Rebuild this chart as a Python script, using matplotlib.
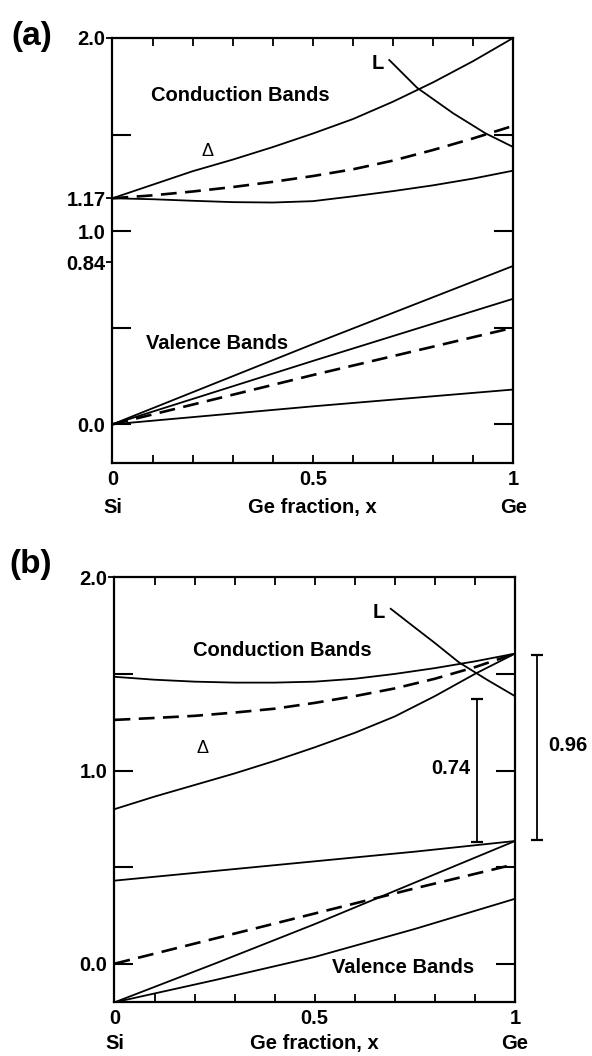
import numpy as np
import matplotlib
matplotlib.use('Agg')
import matplotlib.pyplot as plt

plt.rcParams['font.family'] = ['Liberation Sans', 'DejaVu Sans']

# ---------------- data: panel (a) ----------------
x_grid = [0.0, 0.1, 0.2, 0.3, 0.4, 0.5, 0.6, 0.7, 0.8, 0.9, 1.0]
a_cb_upper = [1.17, 1.24, 1.31, 1.37, 1.435, 1.505, 1.58, 1.67, 1.77, 1.88, 2.0]
a_cb_dash = [1.17, 1.185, 1.205, 1.228, 1.255, 1.285, 1.32, 1.365, 1.42, 1.48, 1.545]
a_cb_lower = [1.17, 1.165, 1.157, 1.15, 1.148, 1.155, 1.18, 1.207, 1.237, 1.272, 1.313]
a_L_x = [0.689, 0.76, 0.85, 0.93, 1.0]
a_L = [1.889, 1.742, 1.61, 1.507, 1.435]
a_vb_x = [0.0, 0.5, 1.0]
a_vb_1 = [0.0, 0.415, 0.82]
a_vb_2 = [0.0, 0.328, 0.65]
a_vb_dash = [0.0, 0.255, 0.50]
a_vb_3 = [0.0, 0.093, 0.18]

# ---------------- data: panel (b) ----------------
b_cb_top = [1.485, 1.47, 1.46, 1.455, 1.455, 1.46, 1.475, 1.50, 1.53, 1.565, 1.605]
b_cb_dash = [1.262, 1.272, 1.283, 1.30, 1.32, 1.35, 1.385, 1.425, 1.475, 1.535, 1.605]
b_cb_delta = [0.80, 0.865, 0.925, 0.985, 1.05, 1.12, 1.195, 1.28, 1.385, 1.50, 1.605]
b_L_x = [0.688, 0.75, 0.8, 0.86, 0.93, 1.0]
b_L = [1.84, 1.74, 1.66, 1.56, 1.47, 1.385]
b_vb_x = [0.0, 0.25, 0.5, 0.75, 1.0]
b_vb_top = [0.43, 0.48, 0.53, 0.58, 0.635]
b_vb_dash = [0.0, 0.13, 0.26, 0.39, 0.515]
b_vb_steep = [-0.2, 0.0, 0.205, 0.42, 0.635]
b_vb_low = [-0.2, -0.085, 0.035, 0.18, 0.336]
gap_x = [0.906, 1.054]
gap_low = [0.63, 0.64]
gap_high = [1.37, 1.60]
gap_labels = ['0.74', '0.96']

# tick labels
x_major = [0.0, 0.5, 1.0]
x_major_labels = ['0', '0.5', '1']
y_major = [0.0, 0.5, 1.0, 1.5]
y_major_labels = ['0.0', '', '1.0', '']
a_y_extra = [0.84, 1.17, 2.0]
a_y_extra_labels = ['0.84', '1.17', '2.0']
b_y_extra = [2.0]
b_y_extra_labels = ['2.0']
bottom_names = ['Si', 'Ge fraction, x', 'Ge']
bottom_name_x = [0.0, 0.5, 1.0]

FS = 14.5
fig = plt.figure(figsize=(5.92, 10.56), dpi=100)
ax_a = fig.add_axes([0.190, 0.5616, 0.677, 0.4025])
ax_b = fig.add_axes([0.1934, 0.0508, 0.6765, 0.4025])

SOLID = dict(color='black', lw=1.3, solid_capstyle='butt')
DASH = dict(color='black', lw=1.9, dashes=(6, 3.2))


def style_axes(ax, extra, extra_labels, name_offset):
    ax.set_xlim(0, 1)
    ax.set_ylim(-0.2, 2.0)
    for s in ax.spines.values():
        s.set_linewidth(1.6)
    ax.set_xticks(x_major)
    ax.set_xticklabels(x_major_labels, fontsize=FS, fontweight='bold')
    ax.set_xticks(np.arange(0.1, 1.0, 0.1), minor=True)
    ax.tick_params(axis='x', which='both', direction='in', top=True, bottom=True,
                   length=6, width=1.3, pad=5)
    ax.set_yticks(y_major)
    ax.set_yticklabels(y_major_labels, fontsize=FS, fontweight='bold')
    ax.set_yticks(extra, minor=True)
    ax.set_yticklabels(extra_labels, minor=True, fontsize=FS, fontweight='bold')
    ax.tick_params(axis='y', which='major', direction='in', left=True, right=True,
                   length=14, width=1.5, pad=5)
    ax.tick_params(axis='y', which='minor', direction='out', left=True, right=False,
                   length=4, width=1.3, pad=1)
    for name, nx in zip(bottom_names, bottom_name_x):
        ax.annotate(name, xy=(nx, 0), xycoords=('data', 'axes fraction'),
                    xytext=(0, name_offset), textcoords='offset points', ha='center',
                    va='center', fontsize=FS, fontweight='bold')


# ---------- panel (a) ----------
ax = ax_a
ax.plot(x_grid, a_cb_upper, **SOLID)
ax.plot(x_grid, a_cb_dash, **DASH)
ax.plot(x_grid, a_cb_lower, **SOLID)
ax.plot(a_L_x, a_L, **SOLID)
ax.plot(a_vb_x, a_vb_1, **SOLID)
ax.plot(a_vb_x, a_vb_2, **SOLID)
ax.plot(a_vb_x, a_vb_dash, **DASH)
ax.plot(a_vb_x, a_vb_3, **SOLID)
style_axes(ax, a_y_extra, a_y_extra_labels, -32)
ax.text(0.32, 1.70, 'Conduction Bands', ha='center', va='center', fontsize=FS, fontweight='bold')
ax.text(0.261, 0.416, 'Valence Bands', ha='center', va='center', fontsize=FS, fontweight='bold')
ax.text(0.237, 1.41, 'Δ', ha='center', va='center', fontsize=13)
ax.text(0.662, 1.866, 'L', ha='center', va='center', fontsize=FS, fontweight='bold')
fig.text(32 / 592, 1 - 36 / 1056, '(a)', ha='center', va='center', fontsize=24, fontweight='bold')

# ---------- panel (b) ----------
ax = ax_b
ax.plot(x_grid, b_cb_top, **SOLID)
ax.plot(x_grid, b_cb_dash, **DASH)
ax.plot(x_grid, b_cb_delta, **SOLID)
ax.plot(b_L_x, b_L, **SOLID)
ax.plot(b_vb_x, b_vb_top, **SOLID)
ax.plot(b_vb_x, b_vb_dash, **DASH)
ax.plot(b_vb_x, b_vb_steep, **SOLID)
ax.plot(b_vb_x, b_vb_low, **SOLID)
style_axes(ax, b_y_extra, b_y_extra_labels, -29.5)
ax.vlines(gap_x, gap_low, gap_high, color='black', lw=1.3, clip_on=False)
ax.plot(gap_x, gap_low, ls='none', marker='_', ms=9, mew=1.6, color='black', clip_on=False)
ax.plot(gap_x, gap_high, ls='none', marker='_', ms=9, mew=1.6, color='black', clip_on=False)
ax.text(gap_x[0] - 0.018, 1.013, gap_labels[0], ha='right', va='center', fontsize=FS, fontweight='bold')
ax.text(gap_x[1] + 0.03, 1.13, gap_labels[1], ha='left', va='center', fontsize=FS, fontweight='bold')
ax.text(0.42, 1.623, 'Conduction Bands', ha='center', va='center', fontsize=FS, fontweight='bold')
ax.text(0.72, -0.02, 'Valence Bands', ha='center', va='center', fontsize=FS, fontweight='bold')
ax.text(0.22, 1.116, 'Δ', ha='center', va='center', fontsize=13)
ax.text(0.66, 1.82, 'L', ha='center', va='center', fontsize=FS, fontweight='bold')
fig.text(31 / 592, 1 - 565 / 1056, '(b)', ha='center', va='center', fontsize=24, fontweight='bold')

fig.savefig('out.png', dpi=100)
